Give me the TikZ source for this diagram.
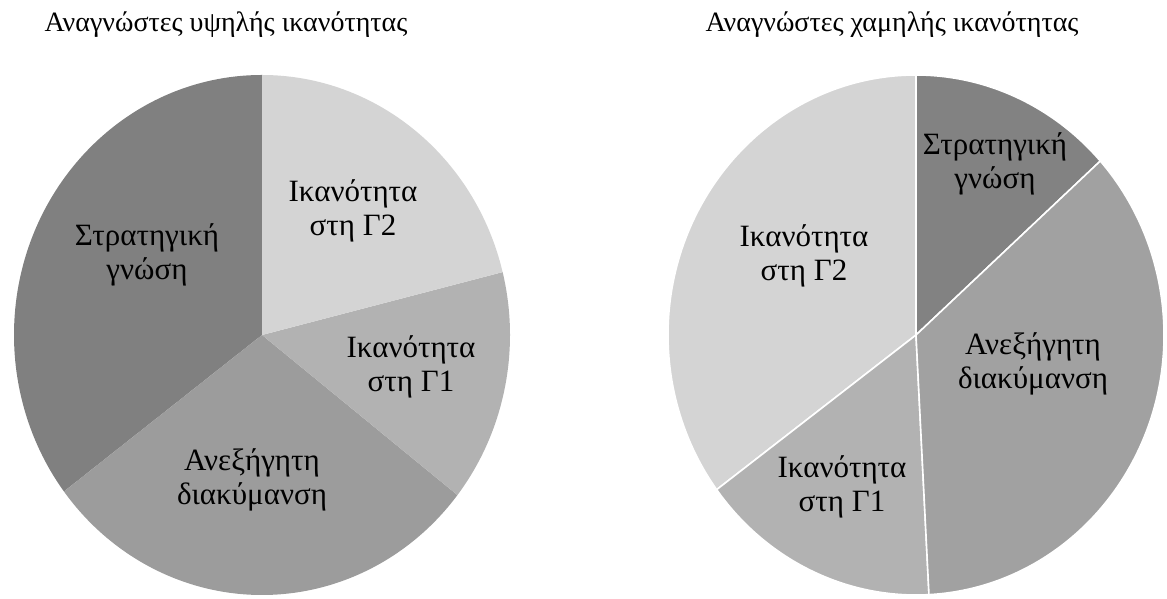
\documentclass[tikz,border=0pt]{standalone}
\usepackage{fontspec}
\setmainfont{Liberation Serif}
\begin{document}
\begin{tikzpicture}[x=1pt,y=1pt,
  lbl/.style={align=center,font=\fontsize{31}{34}\selectfont,inner sep=0pt},
  ttl/.style={anchor=base,font=\fontsize{28}{32}\selectfont,inner sep=0pt},
  sep/.style={draw=white,line width=1.6pt}]
\useasboundingbox (0,0) rectangle (1167,599);
\def\rx{248}\def\ry{260}

% high-ability readers
\coordinate (cl) at (262,264);
\fill[fill=black!50] (cl) -- ++(90:\rx pt and \ry pt) arc[start angle=90,end angle=217,x radius=\rx,y radius=\ry] -- cycle;
\fill[fill=black!39] (cl) -- ++(217:\rx pt and \ry pt) arc[start angle=217,end angle=322,x radius=\rx,y radius=\ry] -- cycle;
\fill[fill=black!30] (cl) -- ++(322:\rx pt and \ry pt) arc[start angle=322,end angle=374,x radius=\rx,y radius=\ry] -- cycle;
\fill[fill=black!17] (cl) -- ++(374:\rx pt and \ry pt) arc[start angle=374,end angle=450,x radius=\rx,y radius=\ry] -- cycle;

\node[ttl] (tl) at (226,567) {Αναγνώστες υψηλής ικανότητας};
\node[lbl] (l1) at (147,344) {Στρατηγική\\γνώση};
\node[lbl] (l2) at (353,388) {Ικανότητα\\στη Γ2};
\node[lbl] (l3) at (411,232) {Ικανότητα\\στη Γ1};
\node[lbl] (l4) at (252,119) {Ανεξήγητη\\διακύμανση};

% low-ability readers
\coordinate (cr) at (916,264);
\filldraw[sep,fill=black!49] (cr) -- ++(42:\rx pt and \ry pt) arc[start angle=42,end angle=90,x radius=\rx,y radius=\ry] -- cycle;
\filldraw[sep,fill=black!17] (cr) -- ++(90:\rx pt and \ry pt) arc[start angle=90,end angle=216.5,x radius=\rx,y radius=\ry] -- cycle;
\filldraw[sep,fill=black!30] (cr) -- ++(216.5:\rx pt and \ry pt) arc[start angle=216.5,end angle=273,x radius=\rx,y radius=\ry] -- cycle;
\filldraw[sep,fill=black!37] (cr) -- ++(273:\rx pt and \ry pt) arc[start angle=273,end angle=402,x radius=\rx,y radius=\ry] -- cycle;

\node[ttl] (tr) at (892,567) {Αναγνώστες χαμηλής ικανότητας};
\node[lbl] (r1) at (995,435) {Στρατηγική\\γνώση};
\node[lbl] (r2) at (804,343) {Ικανότητα\\στη Γ2};
\node[lbl] (r3) at (1033,235) {Ανεξήγητη\\διακύμανση};
\node[lbl] (r4) at (842,112) {Ικανότητα\\στη Γ1};
\end{tikzpicture}
\end{document}
